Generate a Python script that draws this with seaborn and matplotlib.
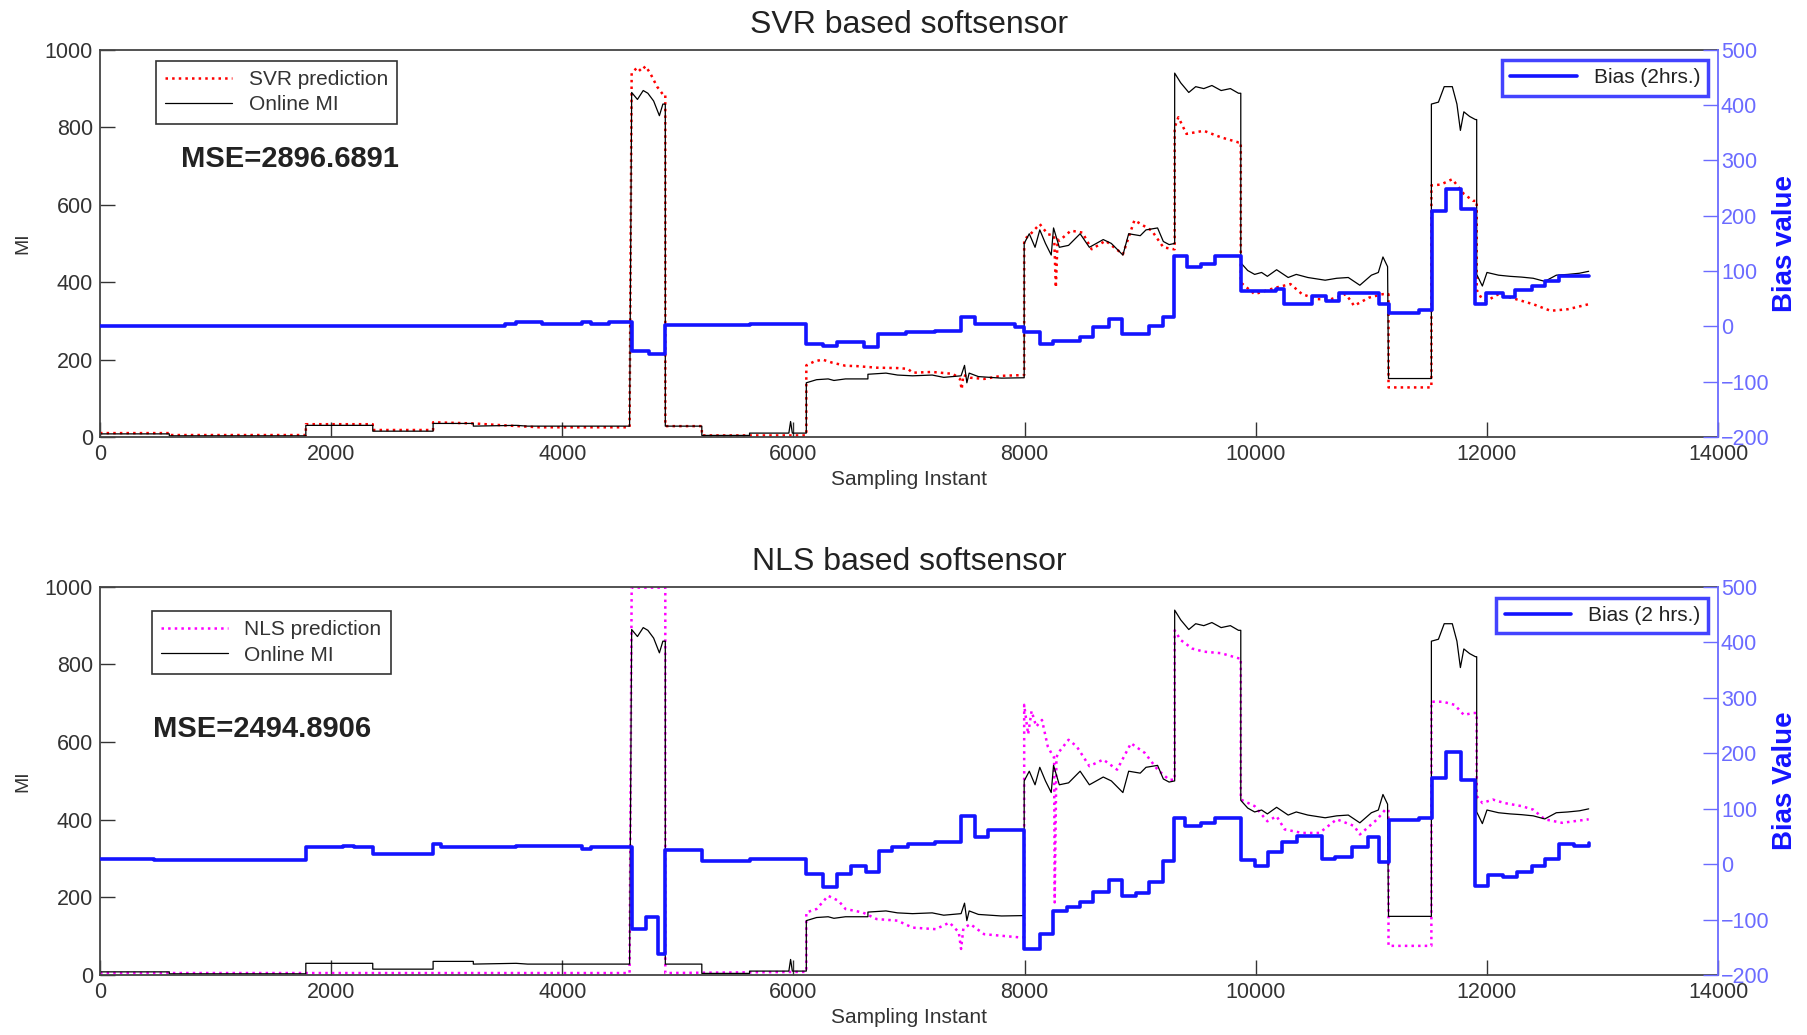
import matplotlib
matplotlib.use("Agg")
import matplotlib.pyplot as plt
import seaborn as sns

# ---- values ----
# Online MI (same measured signal in both panels)
mi_x = [0, 600, 600, 1600, 1781, 1781, 2360, 2360, 2882, 2882, 3230, 3230, 3600, 3700, 4582,
        4600, 4650, 4700, 4740, 4790, 4840, 4870, 4891, 4891, 5207, 5207, 5620, 5620, 5960, 5975,
        5990, 6111, 6111, 6200, 6300, 6350, 6450, 6644, 6644, 6800, 6900, 7030, 7200, 7300, 7450,
        7480, 7500, 7520, 7600, 7800, 7996, 7996, 8040, 8090, 8131, 8180, 8230, 8250, 8300, 8380,
        8480, 8560, 8680, 8750, 8850, 8900, 9000, 9050, 9150, 9200, 9250, 9298, 9298, 9350, 9420,
        9480, 9550, 9620, 9700, 9780, 9850, 9870, 9870, 9930, 9990, 10050, 10100, 10180, 10280,
        10350, 10450, 10600, 10700, 10800, 10900, 11000, 11060, 11100, 11140, 11148, 11519, 11519,
        11580, 11630, 11700, 11740, 11770, 11800, 11850, 11900, 11911, 11911, 11960, 12000, 12100,
        12200, 12300, 12400, 12500, 12600, 12700, 12800, 12880]
mi_y = [8, 8, 3, 3, 3, 30, 30, 15, 15, 35, 35, 28, 30, 28, 28,
        890, 872, 895, 888, 868, 830, 860, 860, 28, 28, 4, 4, 10, 10, 40,
        10, 10, 140, 148, 150, 146, 150, 150, 162, 165, 160, 158, 160, 154, 158,
        185, 140, 165, 156, 152, 153, 500, 525, 490, 535, 500, 470, 540, 490, 495,
        525, 490, 510, 500, 470, 525, 520, 535, 540, 505, 497, 500, 940, 915, 890,
        905, 900, 908, 895, 900, 888, 888, 450, 430, 420, 425, 415, 432, 412,
        420, 412, 405, 410, 412, 392, 418, 425, 465, 440, 151, 151, 860,
        865, 905, 905, 860, 792, 840, 828, 820, 820, 420, 390, 425, 418,
        415, 413, 410, 402, 418, 420, 423, 428]

# SVR prediction
svr_x = [0, 600, 600, 1781, 1781, 2360, 2360, 2882, 2882, 3230, 3500, 3800, 4582,
         4600, 4650, 4680, 4720, 4760, 4820, 4870, 4891, 4891, 5207, 5207, 6111, 6111,
         6180, 6250, 6335, 6450, 6550, 6720, 6900, 6990, 7030, 7200, 7380, 7440, 7455,
         7470, 7532, 7650, 7800, 7996, 7996, 8050, 8131, 8200, 8255, 8270, 8285, 8300,
         8400, 8500, 8580, 8700, 8850, 8950, 9100, 9200, 9290, 9298, 9298, 9330, 9400,
         9550, 9700, 9850, 9870, 9870, 9990, 10175, 10300, 10400, 10530, 10650, 10780,
         10850, 10980, 11100, 11148, 11148, 11519, 11519, 11600, 11700, 11800, 11880,
         11911, 11911, 11950, 12000, 12100, 12250, 12400, 12550, 12700, 12880]
svr_y = [10, 10, 5, 5, 33, 33, 18, 18, 38, 35, 30, 25, 25,
         940, 955, 945, 958, 940, 905, 885, 885, 28, 28, 4, 4, 185,
         195, 200, 192, 184, 183, 179, 178, 176, 166, 168, 163, 150, 123,
         160, 153, 150, 158, 160, 510, 524, 550, 524, 520, 386, 510, 507,
         533, 528, 485, 507, 472, 560, 533, 490, 485, 485, 800, 826, 783,
         791, 774, 761, 761, 399, 369, 386, 395, 369, 356, 356, 369,
         339, 360, 369, 369, 128, 128, 650, 652, 666, 628, 610,
         610, 380, 360, 352, 369, 356, 343, 326, 330, 343]

# NLS prediction
nls_x = [0, 4582, 4600, 4880, 4891, 4891, 6111, 6111, 6200, 6300, 6390, 6450, 6600,
         6720, 6900, 7030, 7230, 7350, 7430, 7450, 7470, 7530, 7650, 7800, 7950, 7996,
         7996, 8030, 8060, 8100, 8150, 8200, 8230, 8255, 8260, 8275, 8290, 8380, 8450,
         8560, 8680, 8800, 8920, 9040, 9150, 9250, 9298, 9298, 9350, 9450, 9550, 9700,
         9850, 9870, 9870, 9990, 10100, 10180, 10250, 10400, 10550, 10700, 10850, 10900,
         11050, 11120, 11148, 11148, 11519, 11519, 11620, 11720, 11800, 11880, 11911,
         11911, 11960, 12050, 12150, 12300, 12400, 12500, 12650, 12880]
nls_y = [5, 5, 998, 998, 998, 5, 8, 161, 170, 204, 191, 170, 161,
         144, 140, 122, 118, 135, 110, 67, 120, 131, 105, 101, 97, 97,
         696, 620, 680, 640, 657, 589, 572, 560, 187, 560, 572, 606, 589,
         538, 555, 529, 597, 572, 529, 503, 503, 888, 863, 841, 833, 829,
         816, 816, 452, 435, 396, 409, 375, 366, 366, 401, 384, 362,
         401, 426, 426, 75, 75, 704, 704, 696, 670, 675, 675,
         461, 443, 452, 443, 435, 426, 401, 392, 401]

# 2 hr bias (step values, each held until the next instant)
bias_svr_x = [0, 3500, 3600, 3820, 4170, 4250, 4400, 4600, 4750, 4891, 5620, 6111, 6258,
              6373, 6606, 6729, 6972, 7223, 7447, 7571, 7919, 7996, 8131, 8247, 8479, 8595,
              8730, 8838, 9078, 9193, 9290, 9406, 9522, 9649, 9870, 10175, 10240, 10484,
              10611, 10720, 11065, 11156, 11410, 11526, 11646, 11773, 11900, 11991, 12136,
              12245, 12390, 12499, 12626, 12880]
bias_svr_y = [1, 4, 8, 4, 8, 4, 8, -44, -50, 3, 5, -32, -36,
              -28, -38, -13, -10, -8, 17, 5, -2, -11, -32, -26, -20, -2,
              13, -13, 1, 17, 128, 108, 113, 128, 64, 67, 40, 55,
              46, 61, 41, 25, 29, 209, 248, 212, 40, 61, 53,
              65, 73, 82, 91, 91]

bias_nls_x = [0, 468, 1781, 2100, 2200, 2360, 2882, 2950, 3600, 4170, 4250, 4600, 4720,
              4830, 4891, 5207, 5620, 6111, 6258, 6373, 6497, 6625, 6740, 6856, 6991, 7223,
              7447, 7571, 7687, 7996, 8131, 8247, 8363, 8479, 8595, 8730, 8846, 8962, 9078,
              9201, 9290, 9387, 9522, 9649, 9870, 9994, 10103, 10230, 10357, 10575, 10684,
              10829, 10974, 11065, 11148, 11410, 11526, 11646, 11773, 11900, 12009, 12136,
              12263, 12390, 12499, 12626, 12753, 12880]
bias_nls_y = [10, 7, 31, 33, 30, 19, 36, 31, 33, 27, 31, -117, -95,
              -162, 25, 6, 10, -18, -41, -18, -3, -14, 24, 30, 36, 40,
              86, 49, 62, -153, -126, -84, -77, -68, -51, -29, -57, -53, -33,
              6, 83, 68, 74, 83, 7, -3, 22, 40, 51, 10, 13,
              30, 48, 3, 80, 83, 155, 202, 152, -39, -20, -24,
              -14, -3, 9, 36, 33, 38]

# ---- style ----
sns.set_theme(style="white")
plt.rcParams["font.family"] = ["Liberation Sans", "DejaVu Sans"]

BLUE = "#1414ff"
AXBLUE = "#6b6bff"
TICK_FS = 15.5
LEG_FS = 15

fig = plt.figure(figsize=(18.08, 10.35), dpi=100)
ax_top = fig.add_axes([0.0553, 0.5778, 0.895, 0.374])
ax_bot = fig.add_axes([0.0553, 0.058, 0.895, 0.375])


def panel(ax, px, py, pcolor, plabel, bx, by, blabel, title, mse, mse_xy,
          blab, leg1_xy, leg2_xy):
    sns.lineplot(x=px, y=py, ax=ax, color=pcolor, linestyle=":", linewidth=1.8,
                 estimator=None, sort=False)
    sns.lineplot(x=mi_x, y=mi_y, ax=ax, color="black", linewidth=0.9,
                 estimator=None, sort=False)
    ax.set_xlim(0, 14000)
    ax.set_ylim(0, 1000)
    ax.set_xticks(range(0, 14001, 2000))
    ax.set_yticks(range(0, 1001, 200))
    ax.tick_params(direction="in", length=11, width=1, labelsize=TICK_FS,
                   colors="#333333", pad=5, top=False, right=False,
                   bottom=True, left=True)
    for s in ["left", "bottom", "top"]:
        ax.spines[s].set_color("#444444")
        ax.spines[s].set_linewidth(1.3)
    ax.spines["right"].set_visible(False)
    ax.set_xlabel("Sampling Instant", fontsize=15, color="#333333", labelpad=4)
    ax.set_ylabel("MI", fontsize=14, color="#333333", labelpad=10)
    ax.set_title(title, fontsize=23, color="#222222", pad=12)
    ax.text(mse_xy[0], mse_xy[1], mse, transform=ax.transAxes, fontsize=21,
            fontweight="bold", color="#222222", va="center", ha="left")
    leg = ax.legend(ax.lines[:2], [plabel, "Online MI"], loc="upper left",
                    bbox_to_anchor=leg1_xy, borderaxespad=0, fancybox=False,
                    frameon=True, edgecolor="black", fontsize=LEG_FS,
                    handlelength=3.2, labelcolor="#333333", borderpad=0.45,
                    labelspacing=0.3)
    leg.get_frame().set_linewidth(1.2)

    ax2 = ax.twinx()
    sns.lineplot(x=bx, y=by, ax=ax2, color=BLUE, linewidth=2.6,
                 drawstyle="steps-post", estimator=None, sort=False)
    ax2.set_ylim(-200, 500)
    ax2.set_yticks(range(-200, 501, 100))
    ax2.tick_params(axis="y", direction="in", length=11, width=1,
                    labelsize=TICK_FS, colors=AXBLUE, pad=2, right=True, left=False)
    for s in ["left", "bottom", "top"]:
        ax2.spines[s].set_visible(False)
    ax2.spines["right"].set_color(AXBLUE)
    ax2.spines["right"].set_linewidth(1.3)
    ax2.set_ylabel(blab, fontsize=20, fontweight="bold", color=BLUE, labelpad=2)
    leg2 = ax2.legend(ax2.lines[:1], [blabel], loc="upper right",
                      bbox_to_anchor=leg2_xy, borderaxespad=0, fancybox=False,
                      frameon=True, edgecolor=BLUE, fontsize=LEG_FS,
                      handlelength=3.2, labelcolor="#222222", borderpad=0.4)
    leg2.get_frame().set_linewidth(2.5)
    return ax2


panel(ax_top, svr_x, svr_y, "red", "SVR prediction", bias_svr_x, bias_svr_y,
      "Bias (2hrs.)", "SVR based softsensor", "MSE=2896.6891", (0.05, 0.718),
      "Bias value", (0.0346, 0.972), (0.994, 0.974))
panel(ax_bot, nls_x, nls_y, "#ff00ff", "NLS prediction", bias_nls_x, bias_nls_y,
      "Bias (2 hrs.)", "NLS based softsensor", "MSE=2494.8906", (0.0328, 0.634),
      "Bias Value", (0.032, 0.938), (0.994, 0.972))

fig.savefig("out.png", dpi=100, facecolor="white")
